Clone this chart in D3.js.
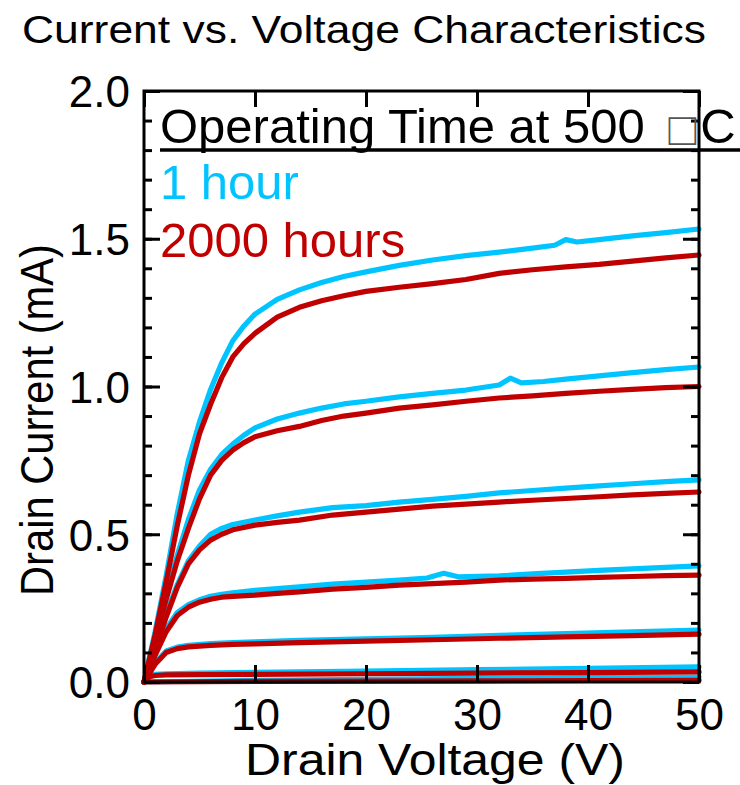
<!DOCTYPE html>
<html>
<head>
<meta charset="utf-8">
<script src="https://cdn.jsdelivr.net/npm/d3@7"></script>
<style>
  html, body { margin: 0; padding: 0; background: #fff; }
  svg { display: block; }
  text { font-family: "Liberation Sans", Arial, sans-serif; }
</style>
</head>
<body>
<svg id="chart" width="740" height="785"></svg>
<script>
// ---------- DATA ([drain voltage V, drain current mA]) ----------
const hour1_g1 = [[0,0],[1,0.17],[2,0.36],[3,0.57],[4,0.75],[5,0.88],[6,0.99],[7,1.08],[8,1.155],[9,1.205],[10,1.245],[12,1.295],[14,1.327],[16,1.352],[18,1.372],[20,1.388],[23,1.41],[26,1.428],[29,1.443],[32,1.455],[35,1.468],[37,1.478],[38,1.497],[39,1.489],[41,1.497],[44,1.51],[47,1.521],[50,1.533]];
const hour1_g2 = [[0,0],[1,0.15],[2,0.3],[3,0.43],[4,0.55],[5,0.65],[6,0.72],[7,0.77],[8,0.805],[9,0.835],[10,0.86],[12,0.89],[14,0.91],[16,0.927],[18,0.941],[20,0.95],[23,0.965],[26,0.977],[29,0.988],[32,1.005],[33,1.028],[34,1.012],[36,1.017],[38,1.025],[41,1.036],[44,1.047],[47,1.057],[50,1.066]];
const hour1_g3 = [[0,0],[1,0.12],[2,0.23],[3,0.33],[4,0.41],[5,0.46],[6,0.5],[7,0.52],[8,0.533],[10,0.548],[12,0.562],[14,0.575],[17,0.59],[20,0.597],[23,0.609],[26,0.618],[29,0.628],[32,0.64],[35,0.648],[38,0.656],[41,0.664],[44,0.671],[47,0.678],[50,0.684]];
const hour1_g4 = [[0,0],[1,0.095],[2,0.18],[3,0.235],[4,0.262],[5,0.278],[6,0.29],[7,0.297],[8,0.302],[10,0.31],[12,0.316],[14,0.322],[17,0.331],[20,0.338],[23,0.345],[25.5,0.352],[27,0.368],[28.3,0.356],[32,0.359],[35,0.366],[38,0.372],[41,0.378],[44,0.383],[47,0.388],[50,0.393]];
const hour1_g5 = [[0,0],[1,0.065],[2,0.105],[3,0.118],[4,0.124],[6,0.13],[8,0.133],[10,0.136],[14,0.141],[20,0.146],[26,0.151],[32,0.158],[38,0.164],[44,0.17],[50,0.176]];
const hour1_g6 = [[0,0],[0.5,0.02],[1,0.026],[2,0.028],[5,0.03],[10,0.033],[20,0.037],[30,0.042],[40,0.046],[50,0.051]];
const hour1_g7 = [[0,0],[10,0.006],[20,0.009],[30,0.012],[40,0.015],[50,0.017]];

const hour2000_g1 = [[0,0],[1,0.16],[2,0.34],[3,0.53],[4,0.7],[5,0.84],[6,0.94],[7,1.03],[8,1.1],[9,1.145],[10,1.18],[12,1.235],[14,1.268],[16,1.29],[18,1.307],[20,1.322],[23,1.336],[26,1.348],[29,1.362],[32,1.383],[35,1.395],[38,1.405],[41,1.413],[44,1.424],[47,1.435],[50,1.445]];
const hour2000_g2 = [[0,0],[1,0.14],[2,0.28],[3,0.41],[4,0.52],[5,0.62],[6,0.7],[7,0.75],[8,0.785],[9,0.81],[10,0.83],[12,0.85],[14,0.865],[16,0.885],[18,0.9],[20,0.91],[23,0.927],[26,0.938],[29,0.95],[32,0.961],[35,0.968],[38,0.977],[41,0.984],[44,0.99],[47,0.996],[50,1.0]];
const hour2000_g3 = [[0,0],[1,0.11],[2,0.22],[3,0.32],[4,0.4],[5,0.447],[6,0.48],[7,0.5],[8,0.515],[10,0.531],[12,0.54],[14,0.548],[17,0.565],[20,0.575],[23,0.585],[26,0.595],[29,0.602],[32,0.609],[35,0.615],[38,0.621],[41,0.627],[44,0.633],[47,0.638],[50,0.643]];
const hour2000_g4 = [[0,0],[1,0.09],[2,0.17],[3,0.225],[4,0.253],[5,0.27],[6,0.28],[7,0.287],[8,0.29],[10,0.294],[12,0.3],[14,0.305],[17,0.314],[20,0.32],[23,0.328],[26,0.333],[29,0.338],[32,0.345],[35,0.348],[38,0.351],[41,0.354],[44,0.357],[47,0.36],[50,0.362]];
const hour2000_g5 = [[0,0],[1,0.06],[2,0.1],[3,0.113],[4,0.119],[6,0.124],[8,0.127],[10,0.129],[14,0.133],[20,0.138],[26,0.143],[32,0.148],[38,0.153],[44,0.157],[50,0.162]];
const hour2000_g6 = [[0,0],[0.5,0.018],[1,0.022],[2,0.024],[5,0.025],[10,0.026],[20,0.028],[30,0.03],[40,0.032],[50,0.034]];
const hour2000_g7 = [[0,0],[10,0.002],[20,0.003],[30,0.004],[40,0.005],[50,0.006]];

const seriesNames = ["1 hour", "2000 hours"];
const seriesColors = ["#00C4FF", "#C00000"];
const xTicks = [0, 10, 20, 30, 40, 50];
const yTicks = [0.0, 0.5, 1.0, 1.5, 2.0];
const yMinorTicks = d3.range(0, 2.0001, 0.1);
const titleText = "Current vs. Voltage Characteristics";
const xLabel = "Drain Voltage (V)";
const yLabel = "Drain Current (mA)";
const legendTitle = "Operating Time at 500 ";
const legendBox = "\u25A1";
const legendUnit = "C";

// ---------- CHART ----------
const svg = d3.select("#chart");
const x = d3.scaleLinear().domain([0, 50]).range([144, 699]);
const y = d3.scaleLinear().domain([0, 2]).range([682, 91]);

const line = d3.line().x(d => x(d[0])).y(d => y(d[1]));

const groups = [
  {color: seriesColors[0], curves: [hour1_g1, hour1_g2, hour1_g3, hour1_g4, hour1_g5, hour1_g6, hour1_g7]},
  {color: seriesColors[1], curves: [hour2000_g1, hour2000_g2, hour2000_g3, hour2000_g4, hour2000_g5, hour2000_g6, hour2000_g7]}
];

// title
svg.append("text").attr("x", 22).attr("y", 43)
  .attr("font-size", 38).attr("textLength", 684).attr("lengthAdjust", "spacingAndGlyphs")
  .text(titleText);

// curves
groups.forEach(g => {
  g.curves.forEach(c => {
    svg.append("path").attr("d", line(c))
      .attr("fill", "none").attr("stroke", g.color)
      .attr("stroke-width", 5.2).attr("stroke-linejoin", "round").attr("stroke-linecap", "round");
  });
});

// axes (ticks inside)
const axisG = svg.append("g");
const leftMinorAxis = d3.axisLeft(y).tickValues(yMinorTicks).tickSizeInner(-8).tickSizeOuter(0).tickFormat("");
const leftMajorAxis = d3.axisLeft(y).tickValues(yTicks).tickSizeInner(-16).tickSizeOuter(0).tickFormat(d3.format(".1f"));
const rightMinorAxis = d3.axisRight(y).tickValues(yMinorTicks).tickSizeInner(-8).tickSizeOuter(0).tickFormat("");
const rightMajorAxis = d3.axisRight(y).tickValues(yTicks).tickSizeInner(-16).tickSizeOuter(0).tickFormat("");
const bottomAxis = d3.axisBottom(x).tickValues(xTicks).tickSizeInner(-17).tickSizeOuter(0).tickFormat(d3.format("d"));
const topAxis = d3.axisTop(x).tickValues(xTicks).tickSizeInner(-16).tickSizeOuter(0).tickFormat("");

function styleAxis(sel) {
  sel.select(".domain").remove();
  sel.selectAll(".tick line").attr("stroke", "#000").attr("stroke-width", 3);
  sel.selectAll(".tick text").attr("fill", "#000").attr("font-size", 44)
     .attr("font-family", "Liberation Sans, Arial, sans-serif");
}
axisG.append("g").attr("transform", "translate(144,0)").call(leftMinorAxis).call(styleAxis);
const lm = axisG.append("g").attr("transform", "translate(144,0)").call(leftMajorAxis).call(styleAxis);
lm.selectAll(".tick text").attr("x", -14).attr("dy", "0.36em");
axisG.append("g").attr("transform", "translate(699,0)").call(rightMinorAxis).call(styleAxis);
axisG.append("g").attr("transform", "translate(699,0)").call(rightMajorAxis).call(styleAxis);
const bm = axisG.append("g").attr("transform", "translate(0,682)").call(bottomAxis).call(styleAxis);
bm.selectAll(".tick text").attr("y", 48).attr("dy", 0);
axisG.append("g").attr("transform", "translate(0,91)").call(topAxis).call(styleAxis);

// frame
svg.append("rect").attr("x", 144).attr("y", 91).attr("width", 555).attr("height", 591)
  .attr("fill", "none").attr("stroke", "#000").attr("stroke-width", 3);

// axis labels
svg.append("text").attr("x", 435).attr("y", 775).attr("text-anchor", "middle")
  .attr("font-size", 45).attr("textLength", 380).attr("lengthAdjust", "spacingAndGlyphs").text(xLabel);
svg.append("text").attr("transform", "translate(53,420) rotate(-90)").attr("text-anchor", "middle")
  .attr("font-size", 46).attr("textLength", 352).attr("lengthAdjust", "spacingAndGlyphs").text(yLabel);

// legend
const lt = svg.append("text").attr("x", 160).attr("y", 143).attr("font-size", 49);
lt.append("tspan").text(legendTitle);
lt.append("tspan").attr("font-family", "DejaVu Sans").attr("font-size", 46).attr("font-weight", 300)
  .attr("fill", "#555").attr("dx", 10).attr("dy", 2).text(legendBox);
lt.append("tspan").attr("dx", 4).attr("dy", -2).text(legendUnit);
svg.append("line").attr("x1", 160).attr("x2", 740).attr("y1", 150).attr("y2", 150)
  .attr("stroke", "#000").attr("stroke-width", 3.5);
svg.append("text").attr("x", 160).attr("y", 199).attr("font-size", 49).attr("fill", seriesColors[0]).text(seriesNames[0]);
svg.append("text").attr("x", 160).attr("y", 257).attr("font-size", 49).attr("fill", seriesColors[1]).text(seriesNames[1]);
</script>
</body>
</html>
